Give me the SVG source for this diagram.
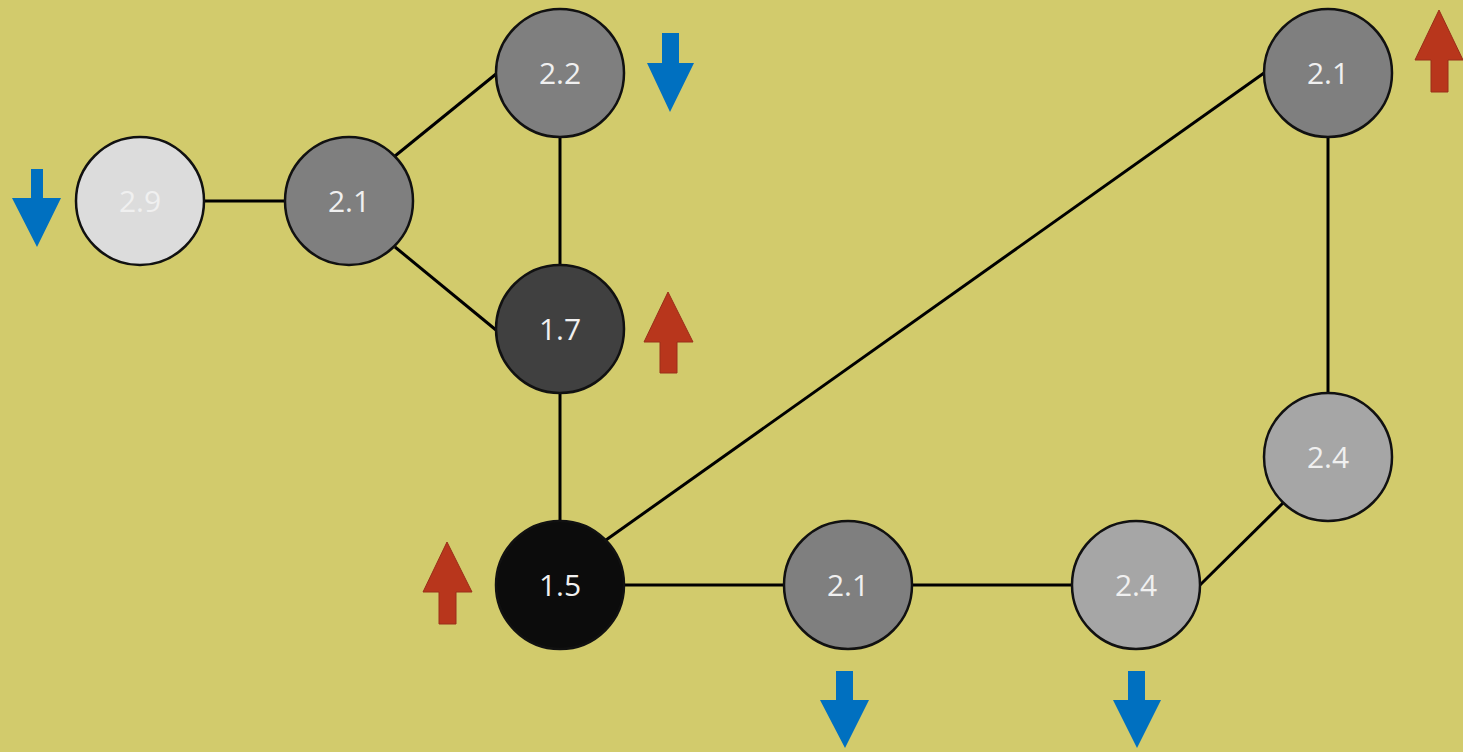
<svg xmlns="http://www.w3.org/2000/svg" width="1463" height="752" viewBox="0 0 1463 752">
<style>
.edge{stroke:#000;stroke-width:3;fill:none}
.node{stroke:#111;stroke-width:2.5}
.lbl{font-family:"Open Sans","Liberation Sans",sans-serif;font-size:30px;fill:#f0f0f0;text-anchor:middle}
.down{fill:#0070c0}
.up{fill:#b8361c;stroke:#9a2e18;stroke-width:1}
</style>
<rect width="1463" height="752" fill="#d2cb6c"/>
<g id="connectors">
<line class="edge" x1="204" y1="201" x2="285" y2="201"/>
<line class="edge" x1="395" y1="156" x2="496" y2="74"/>
<line class="edge" x1="395" y1="247" x2="496" y2="330"/>
<line class="edge" x1="560" y1="137" x2="560" y2="265"/>
<line class="edge" x1="560" y1="393" x2="560" y2="521"/>
<line class="edge" x1="606" y1="540" x2="1264" y2="73"/>
<line class="edge" x1="623" y1="585" x2="784" y2="585"/>
<line class="edge" x1="912" y1="585" x2="1072" y2="585"/>
<line class="edge" x1="1200" y1="585" x2="1283" y2="503"/>
<line class="edge" x1="1328" y1="137" x2="1328" y2="393"/>
</g>
<g id="n29"><circle class="node" cx="140" cy="201" r="64" fill="#dcdcdc"/><text class="lbl" x="140" y="212">2.9</text></g>
<g id="n21a"><circle class="node" cx="349" cy="201" r="64" fill="#7f7f7f"/><text class="lbl" x="349" y="212">2.1</text></g>
<g id="n22"><circle class="node" cx="560" cy="73" r="64" fill="#7f7f7f"/><text class="lbl" x="560" y="84">2.2</text></g>
<g id="n17"><circle class="node" cx="560" cy="329" r="64" fill="#404040"/><text class="lbl" x="560" y="340">1.7</text></g>
<g id="n15"><circle class="node" cx="560" cy="585" r="64" fill="#0c0c0c"/><text class="lbl" x="560" y="596">1.5</text></g>
<g id="n21b"><circle class="node" cx="848" cy="585" r="64" fill="#7f7f7f"/><text class="lbl" x="848" y="596">2.1</text></g>
<g id="n24a"><circle class="node" cx="1136" cy="585" r="64" fill="#a6a6a6"/><text class="lbl" x="1136" y="596">2.4</text></g>
<g id="n24b"><circle class="node" cx="1328" cy="457" r="64" fill="#a6a6a6"/><text class="lbl" x="1328" y="468">2.4</text></g>
<g id="n21c"><circle class="node" cx="1328" cy="73" r="64" fill="#7f7f7f"/><text class="lbl" x="1328" y="84">2.1</text></g>
<g id="arrows">
<polygon class="down" points="31,169 43,169 43,198 61,198 37,247 12,198 31,198"/>
<polygon class="down" points="662,33 679,33 679,63 694,63 670,112 647,63 662,63"/>
<polygon class="down" points="836,671 853,671 853,700 869,700 845,748 820,700 836,700"/>
<polygon class="down" points="1128,671 1145,671 1145,700 1161,700 1137,748 1113,700 1128,700"/>
<polygon class="up" points="668,292 693,342 677,342 677,373 660,373 660,342 644,342"/>
<polygon class="up" points="447,542 472,592 456,592 456,624 439,624 439,592 423,592"/>
<polygon class="up" points="1439,10 1463,60 1448,60 1448,92 1431,92 1431,60 1415,60"/>
</g>
</svg>
